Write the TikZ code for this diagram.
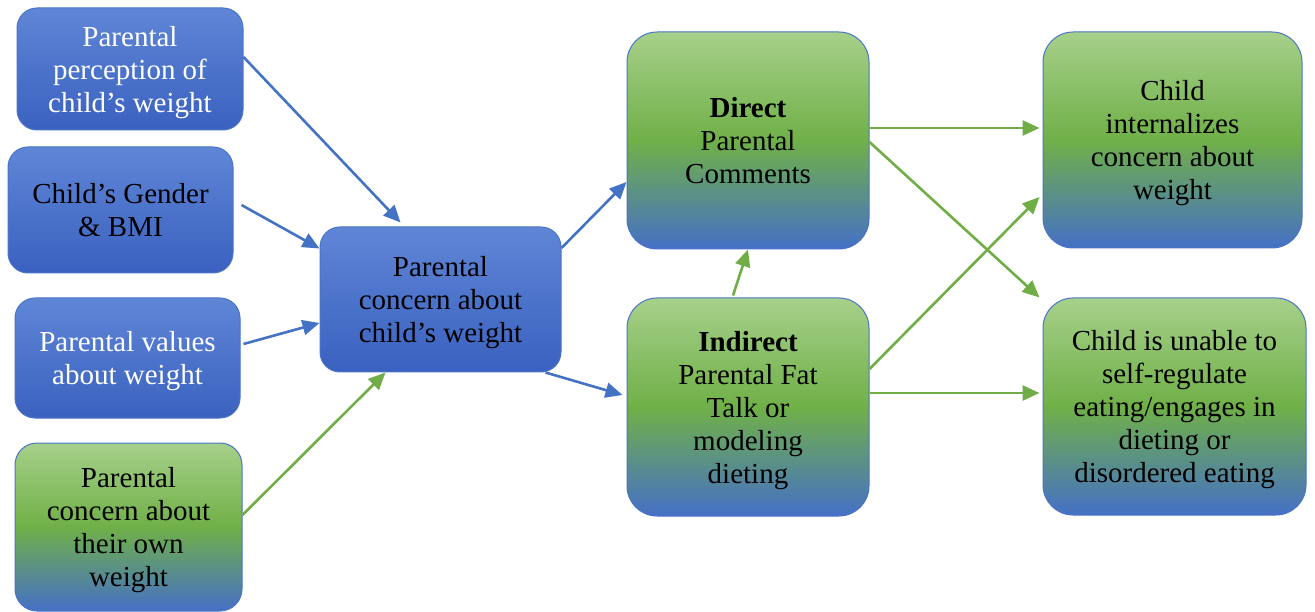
\documentclass[tikz,border=0pt]{standalone}
\usepackage{fontspec}
\IfFontExistsTF{LiberationSerif-Regular.ttf}
  {\setmainfont{LiberationSerif}[Extension=.ttf, UprightFont=*-Regular, BoldFont=*-Bold]}
  {\setmainfont{Liberation Serif}}
\usetikzlibrary{arrows.meta}

\definecolor{boxline}{HTML}{4A74C8}
\definecolor{bluetop}{HTML}{5F86D6}
\definecolor{bluebot}{HTML}{3A61BF}
\definecolor{greentop}{HTML}{A6D08A}
\definecolor{greenmid}{HTML}{70B048}
\definecolor{greenbot}{HTML}{4570C6}
\definecolor{arrblue}{HTML}{4472C4}
\definecolor{arrgreen}{HTML}{70AD47}

\begin{document}
\begin{tikzpicture}[x=1pt,y=-1pt,
    box/.style={draw=boxline, line width=1pt, align=center, inner sep=0pt, text depth=-3pt,
      font=\fontsize{29}{33}\selectfont},
    bluebox/.style={box, top color=bluetop, bottom color=bluebot, rounded corners=20pt},
    greenbox/.style={box, top color=greentop, bottom color=greenbot, middle color=greenmid, rounded corners=30pt}]

        \useasboundingbox (0,0) rectangle (1315,612);

        \begin{scope}[every node/.style={bluebox}]
          \node[minimum width=226pt, minimum height=122pt, text=white] (perc)    at (130,69)    {Parental\\perception of\\child’s weight};
          \node[minimum width=225pt, minimum height=126pt]             (gender)  at (120.5,210) {Child’s Gender\\\& BMI};
          \node[minimum width=225pt, minimum height=120pt, text=white] (values)  at (127.5,358) {Parental values\\about weight};
          \node[minimum width=241pt, minimum height=145pt]             (concern) at (440.5,299.5) {Parental\\concern about\\child’s weight};
        \end{scope}

        \begin{scope}[every node/.style={greenbox}]
          \node[minimum width=227pt, minimum height=168pt, rounded corners=22pt] (own) at (128.5,527) {Parental\\concern about\\their own\\weight};
          \node[minimum width=242pt, minimum height=217pt] (direct)   at (748,140.5)  {\textbf{Direct}\\Parental\\Comments};
          \node[minimum width=242pt, minimum height=218pt] (indirect) at (748,407)    {\textbf{Indirect}\\Parental Fat\\Talk or\\modeling\\dieting};
          \node[minimum width=259pt, minimum height=216pt] (intern)   at (1172.5,140) {Child\\internalizes\\concern about\\weight};
          \node[minimum width=263pt, minimum height=217pt] (unable)   at (1174.5,406.5) {Child is unable to\\self-regulate\\eating/engages in\\dieting or\\disordered eating};
        \end{scope}

        \begin{scope}[every edge/.style={draw, line width=2.6pt, -{Triangle[length=17pt,width=15pt]}}]
          \path ([yshift=12]perc.east)           edge[arrblue] ([xshift=-40,yshift=4]concern.north);
          \path ([xshift=8,yshift=5]gender.east) edge[arrblue] ([yshift=51]concern.west);
          \path ([xshift=3,yshift=14]values.east) edge[arrblue] ([yshift=-23.5]concern.west);
          \path ([yshift=12]own.east)            edge[arrgreen] ([xshift=-55]concern.south);
          \path ([yshift=51.5]concern.east)      edge[arrblue] ([yshift=-41.5]direct.west);
          \path ([xshift=-16]concern.south east) edge[arrblue] ([xshift=-4,yshift=12]indirect.west);
          \path ([xshift=-15,yshift=2]indirect.north) edge[arrgreen] (direct.south);
          \path ([yshift=12.5]direct.east)       edge[arrgreen] ([xshift=-3,yshift=12]intern.west);
          \path ([yshift=-1.5]direct.east)       edge[arrgreen] ([xshift=-3]unable.north west);
          \path ([yshift=38]indirect.east)       edge[arrgreen] ([xshift=-3,yshift=-57]intern.west);
          \path ([yshift=14]indirect.east)       edge[arrgreen] ([xshift=-3,yshift=13.5]unable.west);
        \end{scope}

      \end{tikzpicture}
\end{document}
